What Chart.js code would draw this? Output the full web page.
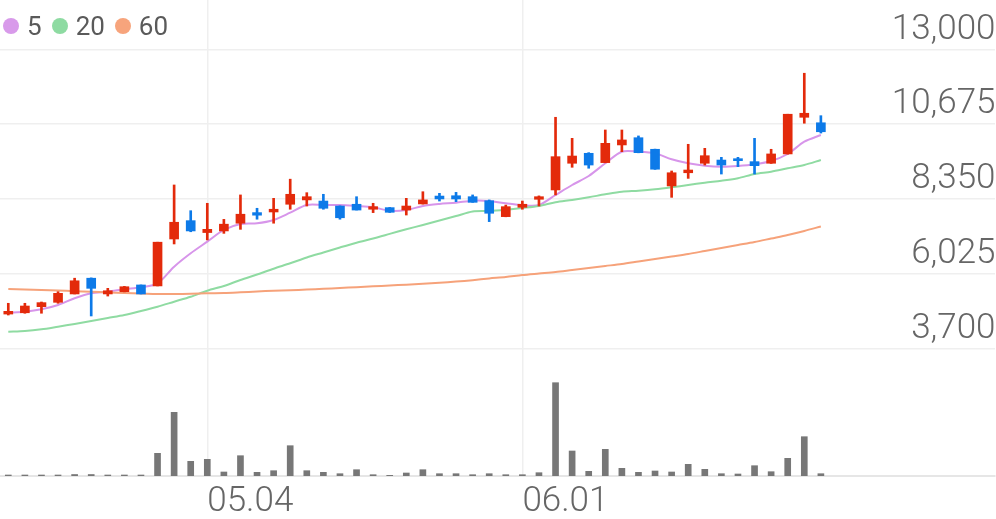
<!DOCTYPE html>
<html>
<head>
<meta charset="utf-8">
<script src="https://cdn.jsdelivr.net/npm/chart.js@4.4.0/dist/chart.umd.min.js"></script>
<style>
  body { margin: 0; background: #fff; }
  .wrap { position: relative; width: 996px; height: 519px; }
  .legend {
    position: absolute; left: 3px; top: 0; height: 51px;
    display: flex; align-items: center;
    font-family: Roboto, sans-serif; font-size: 26px; color: #5a5a5a;
  }
  .legend .dot { display: inline-block; width: 16px; height: 16px; border-radius: 50%; margin-right: 8px; }
  .legend .item { display: flex; align-items: center; margin-right: 10px; }
</style>
</head>
<body>
<div class="wrap">
  <canvas id="chart"></canvas>
  <div class="legend">
    <span class="item"><span class="dot" style="background:#d89aea"></span>5</span>
    <span class="item"><span class="dot" style="background:#8edba2"></span>20</span>
    <span class="item"><span class="dot" style="background:#f7a47c"></span>60</span>
  </div>
</div>
<script>
// trading days (MM.DD), the chart leaves 10 empty slots on the right
const dates = ['04.13', '04.14', '04.16', '04.17', '04.20', '04.21', '04.22', '04.23', '04.24', '04.27',
  '04.28', '04.29', '05.04', '05.06', '05.07', '05.08', '05.11', '05.12', '05.13', '05.14',
  '05.15', '05.18', '05.19', '05.20', '05.21', '05.22', '05.25', '05.26', '05.27', '05.28',
  '05.29', '06.01', '06.02', '06.03', '06.04', '06.05', '06.08', '06.09', '06.10', '06.11',
  '06.12', '06.15', '06.16', '06.17', '06.18', '06.19', '06.22', '06.23', '06.24', '06.25'];
const emptySlots = 10;
const dateTicks = ['05.04', '06.01'];
const priceTicks = [3700, 6025, 8350, 10675, 13000];

const opens = [4765, 4805, 4995, 5130, 5390, 5880, 5390, 5460, 5670, 5640,
  7100, 7670, 7300, 7350, 7590, 7920, 7940, 8180, 8315, 8280,
  8125, 8180, 8025, 8075, 8000, 8190, 8435, 8445, 8415, 8290,
  7795, 8085, 8335, 8625, 9455, 9765, 9475, 10025, 10250, 9890,
  8750, 9160, 9455, 9555, 9595, 9505, 9455, 9745, 10885, 10715];
const highs = [5100, 5100, 5140, 5460, 5880, 5890, 5565, 5625, 5670, 7000,
  8780, 7980, 8210, 7710, 8470, 8055, 8365, 8960, 8540, 8490,
  8130, 8415, 8210, 8080, 8365, 8570, 8520, 8550, 8470, 8315,
  8155, 8280, 8440, 10885, 10230, 9785, 10490, 10490, 10305, 9895,
  9215, 10045, 9920, 9640, 9640, 10230, 9890, 10980, 12255, 10935];
const lows = [4735, 4790, 4790, 5100, 5390, 4705, 5325, 5455, 5390, 5640,
  6945, 7325, 7070, 7275, 7400, 7715, 7590, 8025, 8125, 8025,
  7715, 8000, 7920, 7925, 7845, 8185, 8280, 8260, 8240, 7640,
  7790, 8025, 8125, 8470, 9330, 9300, 9470, 9815, 9780, 9265,
  8395, 8985, 9400, 9120, 9350, 9120, 9450, 9740, 10700, 10395];
const closes = [4850, 5015, 5120, 5410, 5800, 5565, 5490, 5615, 5390, 7000,
  7620, 7350, 7400, 7560, 7870, 7840, 8025, 8490, 8415, 8055,
  7760, 8000, 8105, 7930, 8125, 8315, 8345, 8345, 8240, 7900,
  8105, 8180, 8415, 9660, 9680, 9400, 10075, 10180, 9785, 9270,
  9160, 9245, 9690, 9400, 9535, 9380, 9745, 10980, 11010, 10435];
const volumes = [10000, 10000, 10000, 10000, 15000, 15000, 10000, 10000, 10000, 227000,
  637000, 147000, 167000, 40000, 203000, 37000, 53000, 303000, 53000, 37000,
  23000, 63000, 13000, 7000, 30000, 63000, 23000, 23000, 13000, 23000,
  13000, 13000, 33000, 933000, 250000, 47000, 267000, 77000, 37000, 50000,
  40000, 117000, 67000, 23000, 20000, 103000, 43000, 177000, 393000, 23000];

// moving averages
const ma5 = [4808, 4839, 4913, 5047, 5255, 5411, 5461, 5536, 5597, 5722,
  6238, 6655, 7016, 7380, 7566, 7588, 7691, 7918, 8157, 8157,
  8157, 8126, 8086, 7980, 8002, 8126, 8189, 8229, 8291, 8282,
  8210, 8148, 8157, 8468, 8779, 9060, 9454, 9815, 9815, 9765,
  9578, 9454, 9380, 9348, 9370, 9423, 9526, 9743, 10126, 10335];
const ma20 = [4216, 4238, 4291, 4372, 4456, 4549, 4643, 4736, 4860, 4994,
  5150, 5305, 5492, 5638, 5825, 5996, 6176, 6344, 6524, 6680,
  6836, 6985, 7115, 7258, 7402, 7535, 7675, 7812, 7955, 7971,
  8011, 8064, 8126, 8241, 8313, 8397, 8490, 8571, 8602, 8646,
  8708, 8779, 8851, 8913, 8988, 9122, 9193, 9299, 9401, 9557];
const ma60 = [5545, 5529, 5514, 5498, 5476, 5457, 5439, 5420, 5405, 5389,
  5389, 5395, 5411, 5420, 5442, 5467, 5489, 5504, 5526, 5551,
  5576, 5601, 5626, 5653, 5678, 5706, 5737, 5775, 5818, 5871,
  5918, 5980, 6027, 6073, 6136, 6198, 6260, 6322, 6400, 6478,
  6556, 6633, 6726, 6820, 6913, 7006, 7115, 7224, 7349, 7489];

const UP = '#e32a0b';
const DOWN = '#0d7ae8';

const labels = dates.concat(new Array(emptySlots).fill(''));
const candleColor = (ctx) => closes[ctx.dataIndex] >= opens[ctx.dataIndex] ? UP : DOWN;
const axisFont = { family: 'Roboto', size: 35, weight: '300' };

const maLine = (data, color) => ({
  type: 'line',
  data: data,
  yAxisID: 'y',
  borderColor: color,
  borderWidth: 2,
  pointRadius: 0,
  tension: 0.3,
  order: 3,
});

new Chart(document.getElementById('chart'), {
  type: 'bar',
  data: {
    labels: labels,
    datasets: [
      {
        // high-low wicks
        data: lows.map((l, i) => [l, highs[i]]),
        yAxisID: 'y',
        backgroundColor: candleColor,
        barThickness: 2,
        grouped: false,
        order: 1,
      },
      {
        // open-close bodies
        data: opens.map((o, i) => [o, closes[i]]),
        yAxisID: 'y',
        backgroundColor: candleColor,
        barThickness: 9,
        minBarLength: 2,
        grouped: false,
        order: 0,
      },
      maLine(ma60, '#f6a27a'),
      maLine(ma20, '#8fdba2'),
      maLine(ma5, '#d795ea'),
      {
        data: volumes,
        yAxisID: 'yv',
        backgroundColor: '#777777',
        barThickness: 6,
        grouped: false,
        order: 4,
      },
    ],
  },
  options: {
    responsive: true,
    maintainAspectRatio: false,
    animation: false,
    // x labels sit low, so the axis box runs a little past the canvas bottom
    layout: { padding: { left: 0, top: 0, right: 0, bottom: -10 } },
    plugins: {
      legend: { display: false },
      tooltip: { enabled: false },
    },
    scales: {
      x: {
        offset: true,
        grid: {
          offset: false,
          drawTicks: false,
          lineWidth: 1.5,
          color: (ctx) => dateTicks.includes(labels[ctx.index]) ? '#efefef' : 'rgba(0,0,0,0)',
        },
        border: { color: '#e6e6e6', width: 2 },
        ticks: {
          autoSkip: false,
          maxRotation: 0,
          align: 'start',
          padding: 5.5,
          color: '#666',
          font: axisFont,
          callback: (v, i) => dateTicks.includes(labels[i]) ? labels[i] : '',
        },
      },
      y: {
        position: 'right',
        min: -272,
        max: 14533,
        afterBuildTicks: (axis) => { axis.ticks = priceTicks.map((v) => ({ value: v })); },
        afterFit: (axis) => { axis.paddingTop = 0; axis.paddingBottom = 0; },
        grid: { color: '#efefef', lineWidth: 1.5, drawTicks: false },
        border: { display: false },
        ticks: {
          mirror: true,
          padding: 0.5,
          labelOffset: -19.5,
          color: '#666',
          font: axisFont,
          callback: (v) => v.toLocaleString('en-US'),
        },
      },
      yv: {
        display: false,
        min: 0,
        max: 4760000,
      },
    },
  },
});
</script>
</body>
</html>
